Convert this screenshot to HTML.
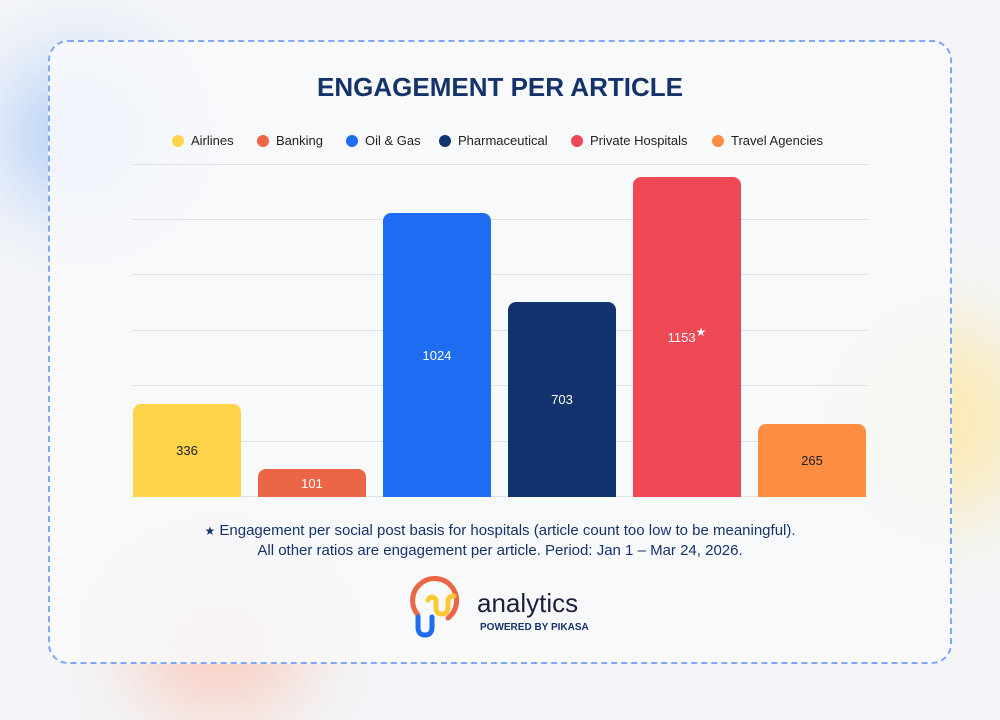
<!DOCTYPE html>
<html><head><meta charset="utf-8"><style>
body{margin:0;width:1000px;height:712px;background:#f3f5f8;position:relative;overflow:hidden;font-family:"Liberation Sans",sans-serif}
.blob{position:absolute;border-radius:50%;filter:blur(40px)}
.card{position:absolute;left:48px;top:40px;width:900px;height:620px;border:2.5px dashed #7ea8f2;border-radius:20px;background:rgba(248,249,251,0.85)}
.t{position:absolute;left:0;width:1000px;text-align:center}
.grid{position:absolute;left:132px;width:735px;height:1px;background:#dfe1e5}
.bar{position:absolute;width:108px;border-radius:8px 8px 0 0;color:#fff;font-size:13px;display:flex;align-items:center;justify-content:center}
.lg{position:absolute;top:133px;font-size:13px;color:#222;display:flex;align-items:center}
.lg i{width:12px;height:12px;border-radius:50%;display:inline-block;margin-right:7px}
</style></head><body>
<div class="blob" style="left:0;top:60px;width:160px;height:150px;background:#b9d1f7"></div>
<div class="blob" style="left:850px;top:320px;width:180px;height:200px;background:#fbeab6"></div>
<div class="blob" style="left:130px;top:570px;width:180px;height:150px;background:#f8cfc3"></div>
<div class="card"></div>
<div class="t" style="top:72px;font-size:26px;font-weight:bold;color:#15336b">ENGAGEMENT PER ARTICLE</div>
<div class="lg" style="left:172px"><i style="background:#fdd44a"></i>Airlines</div>
<div class="lg" style="left:257px"><i style="background:#ea6646"></i>Banking</div>
<div class="lg" style="left:346px"><i style="background:#1d6cf2"></i>Oil &amp; Gas</div>
<div class="lg" style="left:439px"><i style="background:#13336e"></i>Pharmaceutical</div>
<div class="lg" style="left:571px"><i style="background:#ee4854"></i>Private Hospitals</div>
<div class="lg" style="left:712px"><i style="background:#fd8d43"></i>Travel Agencies</div>
<div class="grid" style="top:164px"></div><div class="grid" style="top:219px"></div><div class="grid" style="top:274px"></div><div class="grid" style="top:330px"></div><div class="grid" style="top:385px"></div><div class="grid" style="top:441px"></div><div class="grid" style="top:496px"></div>
<div class="bar" style="left:133px;top:404px;height:93px;background:#fdd44a;color:#222">336</div>
<div class="bar" style="left:258px;top:469px;height:28px;background:#ea6646">101</div>
<div class="bar" style="left:383px;top:213px;height:284px;background:#1d6cf2">1024</div>
<div class="bar" style="left:508px;top:302px;height:195px;background:#13336e">703</div>
<div class="bar" style="left:633px;top:177px;height:320px;background:#ee4854">1153<sup style="font-size:12px;margin-top:-10px">★</sup></div>
<div class="bar" style="left:758px;top:424px;height:73px;background:#fd8d43;color:#222">265</div>
<div class="t" style="top:521px;font-size:15px;color:#15336b;line-height:20px"><span style="font-size:12px;vertical-align:top">★</span> Engagement per social post basis for hospitals (article count too low to be meaningful).<br>All other ratios are engagement per article. Period: Jan 1 – Mar 24, 2026.</div>
<svg style="position:absolute;left:410px;top:575px" width="60" height="65" viewBox="0 0 60 65">
<path d="M8 40 A22 22 0 1 1 38 43" fill="none" stroke="#ea6646" stroke-width="5" stroke-linecap="round"/>
<path d="M18 25 q4 -6 8 0 v8 q0 6 6 6 q6 0 6 -8 v-4 q0 -6 6 -6" fill="none" stroke="#fdc834" stroke-width="5" stroke-linecap="round"/>
<path d="M8 42 v10 q0 8 7 8 q7 0 7 -8 v-10" fill="none" stroke="#1d6cf2" stroke-width="5" stroke-linecap="round"/>
</svg>
<div style="position:absolute;left:477px;top:588px;font-size:26px;color:#1d1f3a">analytics</div>
<div style="position:absolute;left:480px;top:622px;font-size:10px;font-weight:bold;color:#15336b">POWERED BY PIKASA</div>
</body></html>
